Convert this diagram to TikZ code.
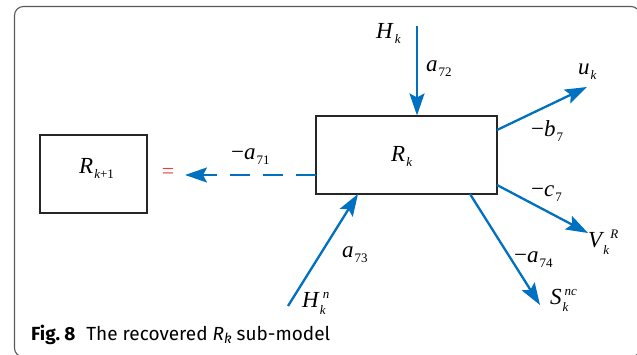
\documentclass[tikz,border=0pt]{standalone}
\usepackage{fontspec}
\setmainfont{Liberation Serif}
\setsansfont{Fira Sans}
\usetikzlibrary{arrows.meta}
\definecolor{arrblue}{RGB}{0,112,192}
\definecolor{eqred}{RGB}{232,64,64}
\definecolor{framegray}{RGB}{90,90,90}
\newcommand{\mainsz}{\fontsize{23}{23}\selectfont}
\newcommand{\subsz}{\fontsize{13}{13}\selectfont}
\newcommand{\Lsb}[2]{{\itshape #1}\kern1pt\raisebox{-5pt}{\subsz #2}}
\newcommand{\Lss}[4]{{\itshape #1}\kern1pt\rlap{\raisebox{-7pt}{\subsz\itshape #2}}\kern#4\raisebox{9pt}{\subsz\itshape #3}}
\begin{document}
\begin{tikzpicture}[x=1pt,y=-1pt,
  box/.style={draw=black!85, line width=1.1pt, inner sep=0pt},
  lab/.style={inner sep=0pt, anchor=base west, font=\mainsz},
  arr/.style={draw=arrblue, line width=2.3pt, -{Stealth[length=22pt,width=15pt,inset=4pt]}},
  dasharr/.style={arr, dash pattern=on 20pt off 13pt}]
\useasboundingbox (0,0) rectangle (637,355);
% frame
\draw[framegray, line width=1.1pt, rounded corners=9pt] (14.5,6.5) rectangle (640,357);
% boxes
\node[box, minimum width=181pt, minimum height=78pt] (Rk) at (406.5,155) {};
\node[box, minimum width=107pt, minimum height=78pt] (Rk1) at (93.5,174) {};
\node[lab] (RkT) at (391,162) {\Lsb{R}{\itshape k}};
\node[lab] (Rk1T) at (79,174) {\Lsb{R}{\itshape k\upshape +1}};
% equals sign
\node[inner sep=0pt, text=eqred, font=\fontsize{22}{22}\selectfont] (eq) at (168,173) {=};
% coordinates
\coordinate (hs) at (417,26);
\coordinate (ue) at (587,87);
\coordinate (us) at (497,130);
\coordinate (cs) at (497,185);
\coordinate (ce) at (588,233);
\coordinate (ss) at (470,194);
\coordinate (se) at (540,305);
\coordinate (hns) at (288,306);
\coordinate (hne) at (358,194);
\coordinate (ds) at (316,175);
\coordinate (de) at (185,175);
% connectors
\draw[arr] (hs) -- (hs |- Rk.north);
\draw[arr] (us) -- (ue);
\draw[arr] (cs) -- (ce);
\draw[arr] (ss) -- (se);
\draw[arr] (hns) -- (hne);
\draw[dasharr] (ds) -- (de);
% labels
\node[lab] (lHk) at (376,39) {\Lsb{H}{\kern1pt\itshape k}};
\node[lab] (la72) at (426,72) {\Lsb{a}{72}};
\node[lab] (luk) at (578,75) {\Lsb{u}{\itshape k}};
\node[lab] (lb7) at (531,137) {\Lsb{\upshape −\itshape b}{7}};
\node[lab] (lc7) at (531,197) {\Lsb{\upshape −\itshape c}{7}};
\node[lab] (lVkR) at (588,248) {\Lss{V}{k}{R}{7pt}};
\node[lab] (la74) at (514,263) {\Lsb{\upshape −\itshape a}{74}};
\node[lab] (lSk) at (550,305) {\Lss{S}{k}{nc}{2pt}};
\node[lab] (la73) at (342,258) {\Lsb{a}{73}};
\node[lab] (lHn) at (302,307) {\Lss{H}{k}{n}{3pt}};
\node[lab] (la71) at (231,160) {\Lsb{\upshape −\itshape a}{71}};
% caption
\node[inner sep=0pt, anchor=base west, font=\sffamily\fontsize{19}{19}\selectfont] (cap) at (31,340)
  {\textbf{Fig.\kern4pt 8}\hspace{11pt}The recovered \textit{R}\raisebox{-3pt}{\fontsize{14}{14}\selectfont\textit{k}} sub-model};
\end{tikzpicture}
\end{document}
